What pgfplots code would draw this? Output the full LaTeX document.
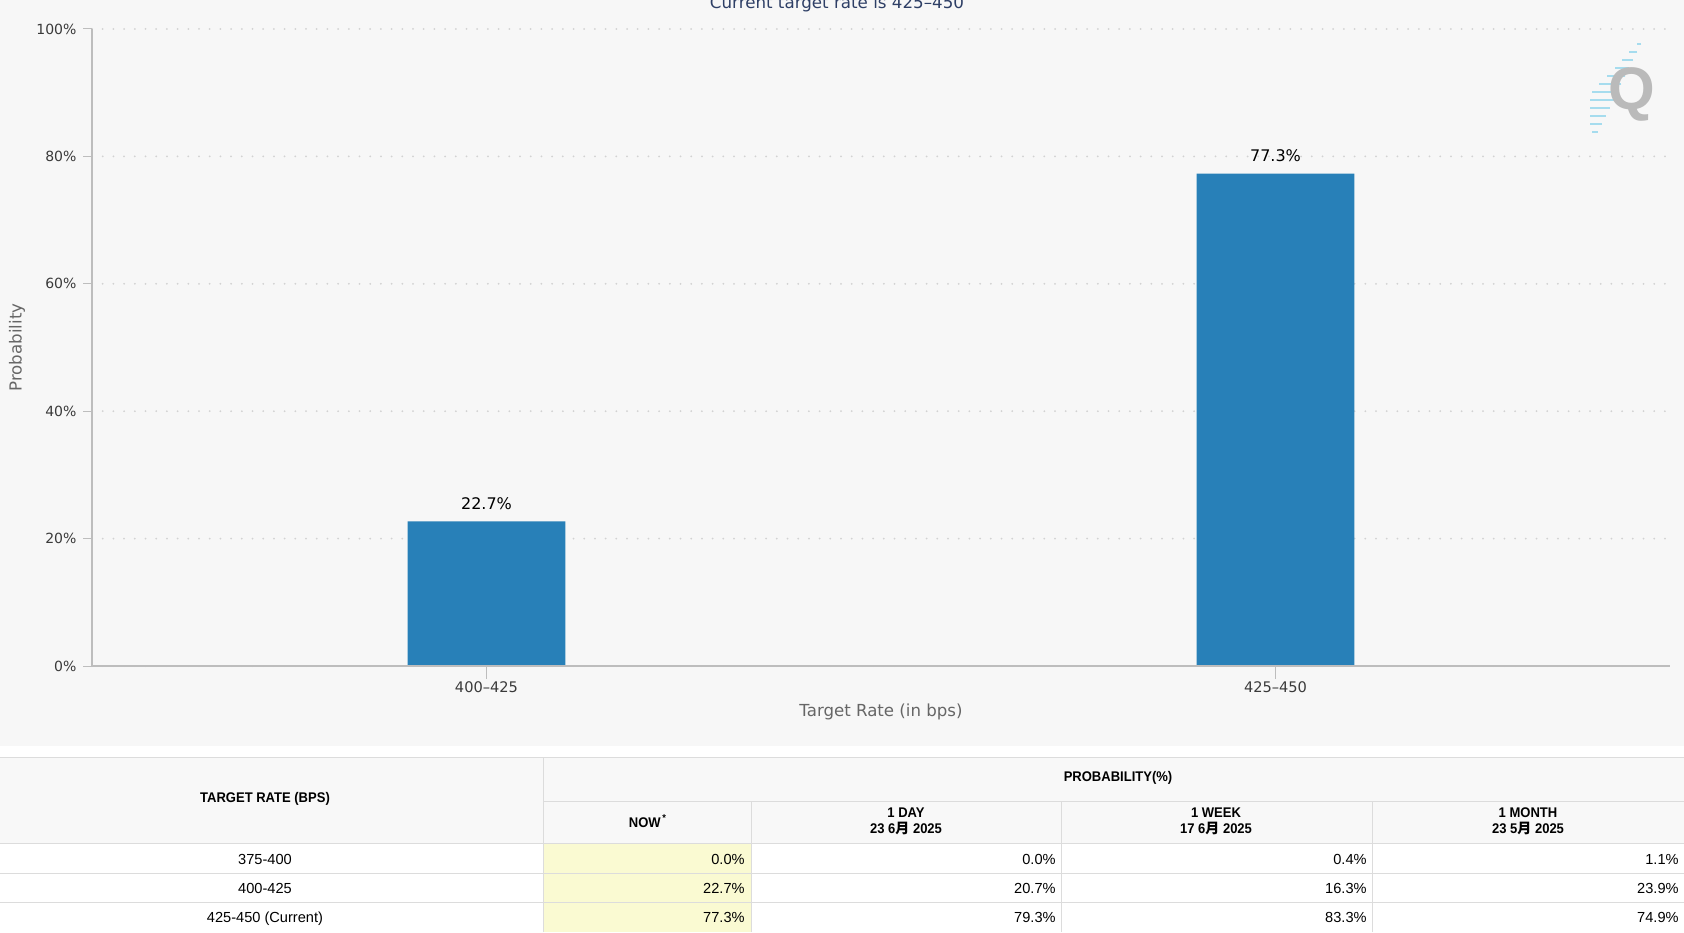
\documentclass[border=0pt]{standalone}
\usepackage{pgfplots}
\pgfplotsset{compat=1.18}
\usepackage{pgfplotstable}
\usepackage{fontspec}
\setmainfont{DejaVu Sans}
\newfontfamily\tabfont{Liberation Sans}
\newfontfamily\tabhead[FakeStretch=0.93]{Liberation Sans}
\newfontfamily\cjk{Noto Sans CJK SC}
\definecolor{bg}{HTML}{F7F7F7}
\definecolor{barblue}{HTML}{2880B8}
\definecolor{gridc}{HTML}{D2D2D2}
\definecolor{axisc}{HTML}{BDBDBD}
\definecolor{ticklab}{HTML}{3A3A3A}
\definecolor{titlec}{HTML}{2E3F66}
\definecolor{axlab}{HTML}{666666}
\definecolor{tline}{HTML}{DCDCDC}
\definecolor{hbg}{HTML}{F8F8F8}
\definecolor{nowc}{HTML}{FAFAD2}
\definecolor{logoc}{HTML}{A6DCEE}
\pgfplotstableread{
x y
0 22.7
1 77.3
}\bars
\begin{document}
\begin{tikzpicture}[x=0.5pt,y=0.5pt]
\useasboundingbox (0,0) rectangle (1684,932);
\fill[bg] (0,186) rectangle (1684,932);
\fill[white] (0,0) rectangle (1684,186);
% title (cut at the top edge)
\node[anchor=base, text=titlec, font=\fontsize{8.35}{9}\selectfont, inner sep=0pt] at (837,923) {Current target rate is 425–450};
% watermark logo
\foreach \yy/\len in {44/4,52/8,60/11,68/14,76/18,84/22,92/26,100/24,108/20,116/16,124/12,132/6}{
  \draw[logoc, line width=1.2pt] ({1642-(\yy-42)*0.49},{932-\yy}) -- ({1642-(\yy-42)*0.49-\len},{932-\yy});
}
\node[text=black!27, font=\tabfont\bfseries\fontsize{30}{31}\selectfont, inner sep=0pt] at (1632,838) {Q};
\begin{axis}[
  at={(46pt,133pt)}, anchor=south west,
  scale only axis, width=789pt, height=318.5pt,
  xmin=-0.5, xmax=1.5, ymin=0, ymax=100,
  axis line style={draw=none},
  ybar, bar width=0.2,
  xtick=data, xticklabels={400–425,425–450},
  ytick={0,20,40,60,80,100},
  yticklabel={\pgfmathprintnumber{\tick}\%},
  tick pos=left, tick align=outside,
  tick style={axisc, line width=0.5pt},
  x tick style={/pgfplots/major tick length=6.5pt},
  y tick style={/pgfplots/major tick length=4.5pt},
  ymajorgrids,
  major grid style={gridc, line width=1pt, line cap=round, dash pattern=on 0pt off 5.35pt},
  /pgf/number format/assume math mode=true,
  yticklabel style={font=\fontsize{7}{8}\selectfont, text=ticklab},
  xticklabel style={font=\fontsize{7.3}{8}\selectfont, text=ticklab},
  xlabel={Target Rate (in bps)},
  ylabel={Probability},
  xlabel style={at={(axis description cs:0.5,-0.0722)}, anchor=center, font=\fontsize{8.3}{9}\selectfont, text=axlab},
  ylabel style={at={(axis description cs:-0.0475,0.5)}, anchor=center, rotate=0, font=\fontsize{8.3}{9}\selectfont, text=axlab},
  nodes near coords={\pgfmathprintnumber[fixed,precision=1,fixed zerofill]{\pgfplotspointmeta}\%},
  every node near coord/.append style={font=\fontsize{8}{9}\selectfont, text=black, anchor=south, yshift=2.2pt, /pgf/number format/assume math mode=true},
  clip=false,
]
\addplot[fill=barblue, draw=none] table[x=x,y=y] {\bars};
\draw[axisc, line width=0.75pt] (rel axis cs:0,0) -- (rel axis cs:0,1);
\draw[axisc, line width=1pt] (rel axis cs:0,0) -- (rel axis cs:1,0);
\end{axis}
% table
\fill[hbg] (0,89) rectangle (1684,175);
\fill[nowc] (543,0) rectangle (751,89);
\begin{scope}[tline, line width=0.5pt]
\draw (0,175) -- (1684,175);
\draw (543,131) -- (1684,131);
\draw (0,89) -- (1684,89);
\draw (0,59) -- (1684,59);
\draw (0,30) -- (1684,30);
\draw (543,0) -- (543,175);
\foreach \cx in {751,1061,1372} \draw (\cx,0) -- (\cx,131);
\end{scope}
\tikzset{hd/.style={font=\tabhead\bfseries\fontsize{7}{8}\selectfont, inner sep=0pt, align=center},
  cell/.style={font=\tabfont\fontsize{7.3}{8}\selectfont, inner sep=0pt, text height=5.2pt, text depth=0pt}}
\node[hd] at (265,133) {TARGET RATE (BPS)};
\node[hd] at (1118,154) {PROBABILITY(\%)};
\node[hd] at (648,111) {NOW\textsuperscript{\,*}};
\node[hd] at (906,111) {1 DAY\\23 6{\cjk 月} 2025};
\node[hd] at (1216,111) {1 WEEK\\17 6{\cjk 月} 2025};
\node[hd] at (1528,111) {1 MONTH\\23 5{\cjk 月} 2025};
\node[cell] at (265,73) {375-400};
\node[cell] at (265,44) {400-425};
\node[cell] at (265,15) {425-450 (Current)};
\node[cell,anchor=east] at (745,73) {0.0\%};
\node[cell,anchor=east] at (745,44) {22.7\%};
\node[cell,anchor=east] at (745,15) {77.3\%};
\node[cell,anchor=east] at (1056,73) {0.0\%};
\node[cell,anchor=east] at (1056,44) {20.7\%};
\node[cell,anchor=east] at (1056,15) {79.3\%};
\node[cell,anchor=east] at (1367,73) {0.4\%};
\node[cell,anchor=east] at (1367,44) {16.3\%};
\node[cell,anchor=east] at (1367,15) {83.3\%};
\node[cell,anchor=east] at (1679,73) {1.1\%};
\node[cell,anchor=east] at (1679,44) {23.9\%};
\node[cell,anchor=east] at (1679,15) {74.9\%};
\end{tikzpicture}
\end{document}
